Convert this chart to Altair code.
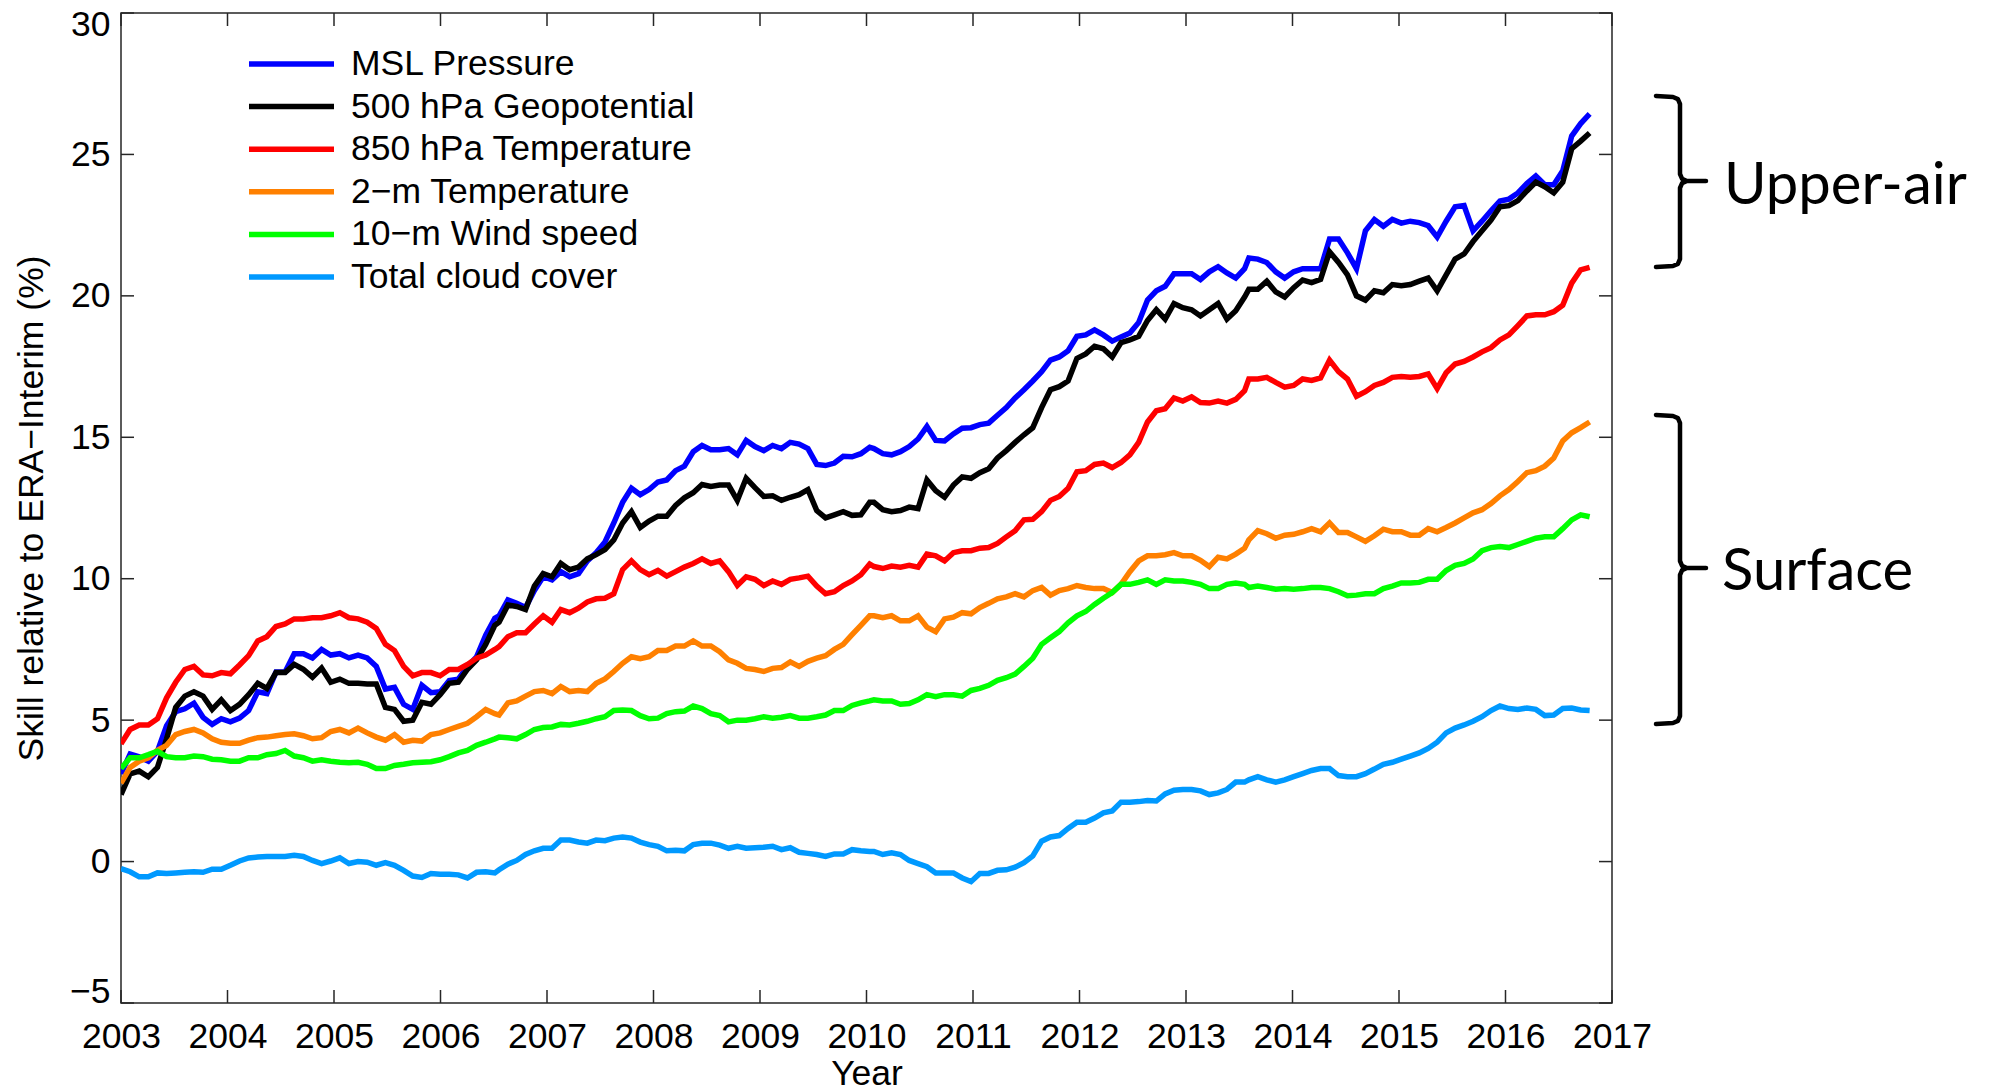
import altair as alt
import numpy as np
import pandas as pd

# ---------------- data ----------------
SERIES = ["MSL Pressure", "500 hPa Geopotential", "850 hPa Temperature",
          "2\u2212m Temperature", "10\u2212m Wind speed", "Total cloud cover"]
COLORS = ["#0000ff", "#000000", "#ff0000", "#ff8000", "#00ff00", "#0099ff"]

# sample times: four consecutive runs of (roughly monthly) samples
SEGMENTS = [(2003.0, 2006.51, 42), (2006.55, 2010.03, 43),
            (2010.07, 2013.55, 43), (2013.59, 2016.79, 39)]

msl = [3.1, 3.8, 3.7, 3.55, 3.9, 4.8, 5.3, 5.4, 5.6, 5.1, 4.85, 5.05, 4.94, 5.07, 5.34, 6.0, 5.94, 6.7, 6.7, 7.35, 7.35,
       7.2, 7.5, 7.3, 7.35, 7.2, 7.3, 7.2, 6.9, 6.1, 6.16, 5.56, 5.38, 6.23, 5.97, 6.0, 6.4, 6.45, 6.9, 7.24, 8.0, 8.6,
       8.69, 9.25, 9.13, 8.98, 9.58, 10.07, 9.96, 10.25, 10.07, 10.18, 10.63, 10.92, 11.3, 11.97, 12.7, 13.2, 12.97,
       13.15, 13.42, 13.49, 13.82, 13.98, 14.49, 14.71, 14.56, 14.56, 14.6, 14.38, 14.89, 14.67, 14.53, 14.71, 14.6,
       14.82, 14.76, 14.6, 14.04, 14.0, 14.09, 14.33, 14.31, 14.42, 14.65,
       14.6, 14.42, 14.38, 14.49, 14.67, 14.94, 15.38, 14.89, 14.87, 15.12, 15.32, 15.34, 15.45, 15.5, 15.78, 16.05,
       16.39, 16.68, 16.99, 17.32, 17.73, 17.84, 18.06, 18.57, 18.62, 18.8, 18.62, 18.4, 18.55, 18.69, 19.06, 19.85,
       20.18, 20.34, 20.78, 20.78, 20.78, 20.58, 20.85, 21.03, 20.81, 20.63, 20.96,
       21.34, 21.3, 21.18, 20.85, 20.63, 20.85, 20.96, 20.96, 20.96, 22.01, 22.01, 21.52, 20.96, 22.3, 22.7, 22.46,
       22.7, 22.57, 22.64, 22.59, 22.48, 22.08, 22.64, 23.15, 23.19, 22.3, 22.64, 23.01, 23.35, 23.42, 23.64, 23.97,
       24.24, 23.93, 23.93, 24.42, 25.65, 26.09, 26.43]

z500 = [2.37, 3.1, 3.2, 3.0, 3.33, 4.34, 5.45, 5.85, 6.0, 5.85, 5.38, 5.72, 5.34, 5.56, 5.9, 6.3, 6.12, 6.68, 6.68,
        6.97, 6.8, 6.52, 6.84, 6.34, 6.45, 6.3, 6.3, 6.28, 6.28, 5.45, 5.38, 4.96, 5.0, 5.63, 5.56, 5.9, 6.3, 6.34,
        6.8, 7.13, 7.68, 8.35,
        8.46, 9.07, 9.02, 8.91, 9.74, 10.18, 10.07, 10.54, 10.32, 10.41, 10.7, 10.85, 11.03, 11.37, 11.97, 12.37,
        11.81, 12.04, 12.21, 12.21, 12.59, 12.86, 13.04, 13.33, 13.26, 13.31, 13.31, 12.77, 13.55, 13.22, 12.91,
        12.93, 12.77, 12.88, 12.97, 13.15, 12.41, 12.15, 12.26, 12.37, 12.24, 12.26, 12.7,
        12.7, 12.44, 12.37, 12.41, 12.53, 12.48, 13.49, 13.11, 12.88, 13.31, 13.6, 13.55, 13.75, 13.89, 14.27, 14.53,
        14.82, 15.09, 15.34, 16.05, 16.68, 16.79, 16.99, 17.79, 17.95, 18.22, 18.13, 17.84, 18.35, 18.44, 18.57,
        19.13, 19.51, 19.18, 19.73, 19.58, 19.51, 19.29, 19.51, 19.73, 19.18, 19.47, 19.96,
        20.23, 20.23, 20.52, 20.14, 19.96, 20.29, 20.56, 20.47, 20.58, 21.56, 21.18, 20.74, 20.0, 19.85, 20.18,
        20.11, 20.4, 20.36, 20.4, 20.52, 20.63, 20.18, 20.74, 21.3, 21.48, 21.92, 22.3, 22.68, 23.15, 23.19, 23.37,
        23.71, 24.02, 23.86, 23.64, 24.02, 25.2, 25.47, 25.76]

t850 = [4.16, 4.67, 4.83, 4.83, 5.05, 5.79, 6.34, 6.79, 6.9, 6.6, 6.57, 6.68, 6.64, 6.95, 7.28, 7.8, 7.95, 8.31, 8.4,
        8.58, 8.58, 8.62, 8.62, 8.69, 8.8, 8.62, 8.58, 8.46, 8.24, 7.68, 7.46, 6.9, 6.57, 6.68, 6.68, 6.57, 6.79,
        6.79, 6.97, 7.19, 7.3, 7.5,
        7.6, 7.95, 8.09, 8.09, 8.4, 8.69, 8.46, 8.91, 8.8, 8.96, 9.18, 9.29, 9.31, 9.47, 10.32, 10.63, 10.32, 10.14,
        10.29, 10.09, 10.25, 10.41, 10.54, 10.7, 10.54, 10.63, 10.25, 9.76, 10.07, 9.98, 9.76, 9.92, 9.8, 9.98,
        10.03, 10.09, 9.74, 9.47, 9.54, 9.76, 9.92, 10.14, 10.52,
        10.43, 10.36, 10.45, 10.41, 10.47, 10.41, 10.87, 10.81, 10.63, 10.92, 10.99, 10.99, 11.08, 11.1, 11.25,
        11.48, 11.7, 12.08, 12.1, 12.37, 12.77, 12.91, 13.2, 13.78, 13.82, 14.04, 14.09, 13.93, 14.11, 14.38, 14.82,
        15.54, 15.94, 16.01, 16.39, 16.28, 16.43, 16.23, 16.21, 16.28, 16.21, 16.34, 16.65,
        17.06, 17.06, 17.12, 16.94, 16.77, 16.83, 17.06, 17.01, 17.1, 17.73, 17.32, 17.06, 16.45, 16.61, 16.83,
        16.94, 17.12, 17.15, 17.12, 17.15, 17.24, 16.72, 17.28, 17.59, 17.68, 17.84, 18.02, 18.17, 18.44, 18.62,
        18.95, 19.29, 19.33, 19.33, 19.44, 19.67, 20.45, 20.92, 21.01]

t2m = [2.77, 3.33, 3.55, 3.67, 3.93, 4.11, 4.49, 4.6, 4.67, 4.55, 4.34, 4.22, 4.18, 4.18, 4.29, 4.38, 4.4, 4.45, 4.49,
       4.52, 4.45, 4.34, 4.38, 4.6, 4.67, 4.55, 4.72, 4.55, 4.4, 4.29, 4.49, 4.22, 4.29, 4.26, 4.49, 4.55, 4.67,
       4.78, 4.89, 5.12, 5.38, 5.23,
       5.18, 5.61, 5.68, 5.85, 6.01, 6.05, 5.94, 6.19, 6.01, 6.05, 6.01, 6.3, 6.46, 6.72, 7.01, 7.24, 7.17, 7.24,
       7.46, 7.46, 7.62, 7.62, 7.8, 7.62, 7.62, 7.42, 7.13, 7.01, 6.83, 6.79, 6.72, 6.83, 6.86, 7.06, 6.9, 7.08,
       7.19, 7.28, 7.5, 7.68, 8.02, 8.35, 8.69,
       8.69, 8.62, 8.69, 8.51, 8.51, 8.69, 8.29, 8.13, 8.58, 8.64, 8.8, 8.76, 8.98, 9.13, 9.29, 9.36, 9.47, 9.36,
       9.58, 9.69, 9.42, 9.58, 9.65, 9.76, 9.69, 9.65, 9.65, 9.51, 9.8, 10.25, 10.63, 10.81, 10.81, 10.85, 10.92,
       10.81, 10.81, 10.65, 10.43, 10.76, 10.7, 10.87, 11.08,
       11.37, 11.7, 11.59, 11.43, 11.54, 11.57, 11.66, 11.77, 11.66, 11.97, 11.63, 11.63, 11.48, 11.32, 11.52,
       11.75, 11.66, 11.66, 11.54, 11.54, 11.77, 11.66, 11.81, 11.97, 12.15, 12.33, 12.44, 12.66, 12.93, 13.15,
       13.44, 13.75, 13.82, 13.98, 14.27, 14.87, 15.16, 15.34, 15.54]

ws10 = [3.29, 3.67, 3.67, 3.78, 3.9, 3.71, 3.67, 3.67, 3.73, 3.71, 3.62, 3.6, 3.55, 3.55, 3.67, 3.67, 3.78, 3.82,
        3.93, 3.73, 3.67, 3.55, 3.6, 3.55, 3.51, 3.49, 3.51, 3.44, 3.29, 3.29, 3.4, 3.44, 3.49, 3.51, 3.53, 3.6,
        3.71, 3.84, 3.93, 4.11, 4.22, 4.34,
        4.4, 4.38, 4.34, 4.49, 4.67, 4.74, 4.76, 4.85, 4.83, 4.89, 4.96, 5.05, 5.12, 5.34, 5.36, 5.34, 5.16, 5.05,
        5.07, 5.23, 5.3, 5.32, 5.5, 5.41, 5.23, 5.16, 4.94, 5.0, 5.0, 5.05, 5.12, 5.07, 5.1, 5.16, 5.07, 5.07, 5.12,
        5.18, 5.34, 5.34, 5.52, 5.61, 5.68,
        5.72, 5.68, 5.68, 5.56, 5.59, 5.72, 5.9, 5.83, 5.9, 5.9, 5.85, 6.05, 6.12, 6.23, 6.41, 6.5, 6.63, 6.9, 7.19,
        7.68, 7.91, 8.13, 8.44, 8.69, 8.84, 9.09, 9.31, 9.51, 9.8, 9.8, 9.87, 9.96, 9.8, 9.96, 9.92, 9.92, 9.87, 9.8,
        9.65, 9.65, 9.8, 9.85, 9.8,
        9.69, 9.74, 9.69, 9.63, 9.65, 9.63, 9.65, 9.69, 9.69, 9.65, 9.54, 9.4, 9.42, 9.47, 9.47, 9.65, 9.74, 9.85,
        9.85, 9.87, 9.98, 9.98, 10.29, 10.47, 10.54, 10.7, 10.99, 11.1, 11.14, 11.1, 11.21, 11.32, 11.43, 11.48,
        11.48, 11.77, 12.08, 12.26, 12.19]

tcc = [-0.25, -0.36, -0.54, -0.54, -0.4, -0.42, -0.4, -0.38, -0.36, -0.38, -0.27, -0.27, -0.13, 0.02, 0.13, 0.16,
       0.18, 0.18, 0.18, 0.22, 0.18, 0.04, -0.07, 0.02, 0.13, -0.07, 0.0, -0.02, -0.13, -0.04, -0.13, -0.31, -0.51,
       -0.56, -0.42, -0.45, -0.45, -0.47, -0.58, -0.38, -0.36, -0.4,
       -0.29, -0.09, 0.04, 0.25, 0.38, 0.47, 0.47, 0.76, 0.76, 0.69, 0.65, 0.76, 0.74, 0.83, 0.87, 0.83, 0.69, 0.6,
       0.54, 0.38, 0.4, 0.38, 0.6, 0.65, 0.65, 0.58, 0.47, 0.54, 0.47, 0.49, 0.51, 0.54, 0.42, 0.49, 0.33, 0.29,
       0.25, 0.18, 0.27, 0.27, 0.42, 0.38, 0.36,
       0.36, 0.25, 0.31, 0.25, 0.04, -0.07, -0.18, -0.4, -0.4, -0.4, -0.58, -0.71, -0.42, -0.42, -0.31, -0.29,
       -0.2, -0.04, 0.2, 0.72, 0.87, 0.92, 1.17, 1.39, 1.39, 1.54, 1.72, 1.79, 2.1, 2.1, 2.12, 2.16, 2.14, 2.39,
       2.52, 2.55, 2.55, 2.5, 2.37, 2.43, 2.55, 2.81, 2.81,
       2.89, 3.0, 2.89, 2.81, 2.89, 3.0, 3.11, 3.22, 3.29, 3.29, 3.04, 3.0, 3.0, 3.11, 3.27, 3.44, 3.51, 3.62,
       3.73, 3.84, 4.0, 4.22, 4.55, 4.72, 4.83, 4.96, 5.12, 5.34, 5.5, 5.41, 5.38, 5.43, 5.38, 5.16, 5.18, 5.41,
       5.43, 5.36, 5.34]

X_TICKS = list(range(2003, 2018))
Y_TICKS = [-5, 0, 5, 10, 15, 20, 25, 30]
GROUPS = ["Upper-air", "Surface"]

# ---------------- build tables ----------------
years = np.concatenate([np.linspace(a, b, n) for a, b, n in SEGMENTS])
values = [msl, z500, t850, t2m, ws10, tcc]
frames = []
for name, vals in zip(SERIES, values):
    assert len(vals) == len(years), (name, len(vals))
    frames.append(pd.DataFrame({"year": years, "value": vals, "series": name}))
df = pd.concat(frames, ignore_index=True)

# ---------------- styling / layout ----------------
W, H = 1491, 990
TL = 13
FONT = "Liberation Sans"
FS = 35.5
AX = "#262626"

xs = alt.Scale(domain=[2003, 2017], nice=False, zero=False)
ys = alt.Scale(domain=[-5, 30], nice=False, zero=False)
cs = alt.Scale(domain=SERIES, range=COLORS)

lines = alt.Chart(df).mark_line(strokeWidth=5.5, clip=True).encode(
    x=alt.X("year:Q", scale=xs, axis=alt.Axis(
        values=X_TICKS, format="d", title="Year", ticks=False, domain=False, grid=False,
        labelFlush=False, labelPadding=16, labelFont=FONT, labelFontSize=FS, labelColor="#000",
        titleFont=FONT, titleFontSize=FS, titleFontWeight="normal", titleColor="#000",
        titleBaseline="alphabetic", titleY=81)),
    y=alt.Y("value:Q", scale=ys, axis=alt.Axis(
        values=Y_TICKS, title="Skill relative to ERA\u2212Interim (%)", ticks=False, domain=False,
        grid=False, labelFlush=True, labelFlushOffset=6, labelPadding=11, labelFont=FONT,
        labelFontSize=FS, labelColor="#000", titleFont=FONT, titleFontSize=FS,
        titleFontWeight="normal", titleColor="#000", titleAngle=270, titleAlign="center",
        titleBaseline="alphabetic", titleX=-79, titleY=H / 2)),
    color=alt.Color("series:N", scale=cs, legend=None),
    order=alt.Order("year:Q"),
)

xt = pd.DataFrame({"year": X_TICKS})
yt = pd.DataFrame({"value": Y_TICKS})
tick_mark = dict(color=AX, strokeWidth=1.5)
xenc = alt.X("year:Q", scale=xs, axis=None)
yenc = alt.Y("value:Q", scale=ys, axis=None)
ticks = [
    alt.Chart(xt).mark_rule(**tick_mark).encode(x=xenc, y=alt.value(H), y2=alt.value(H - TL)),
    alt.Chart(xt).mark_rule(**tick_mark).encode(x=xenc, y=alt.value(0), y2=alt.value(TL)),
    alt.Chart(yt).mark_rule(**tick_mark).encode(y=yenc, x=alt.value(0), x2=alt.value(TL)),
    alt.Chart(yt).mark_rule(**tick_mark).encode(y=yenc, x=alt.value(W), x2=alt.value(W - TL)),
]

# manual legend (top-left, inside the plot)
leg = pd.DataFrame({"series": SERIES})
leg_y = alt.Y("series:N", axis=None,
              scale=alt.Scale(type="point", domain=SERIES, range=[51, 264], padding=0))
legend_lines = alt.Chart(leg).mark_rule(strokeWidth=5.5).encode(
    y=leg_y, x=alt.value(128), x2=alt.value(213),
    color=alt.Color("series:N", scale=cs, legend=None))
legend_text = alt.Chart(leg).mark_text(
    align="left", baseline="middle", font=FONT, fontSize=FS, color="#000").encode(
    y=leg_y, x=alt.value(230), text="series:N")

# braces + group labels on the right
def brace(top, tip, bottom, xa=1535, xb=1559, xt_=1585, r=7):
    pts = [(xa, top), (xb - r, top + 1), (xb - 0.3 * r, top + 0.3 * r + 1), (xb, top + r + 1),
           (xb, tip - r), (xb + 0.3 * r, tip - 0.3 * r), (xb + r, tip), (xt_, tip),
           (xb + r, tip), (xb + 0.3 * r, tip + 0.3 * r), (xb, tip + r),
           (xb, bottom - r - 1), (xb - 0.3 * r, bottom - 0.3 * r - 1), (xb - r, bottom - 1), (xa, bottom)]
    return pts

brace_rows = []
for gi, (top, tip, bot) in enumerate([(83, 168, 254), (402, 555, 711)]):
    for k, (bx, by) in enumerate(brace(top, tip, bot)):
        brace_rows.append({"brace": GROUPS[gi], "k": k, "bx": bx, "by": by})
braces = alt.Chart(pd.DataFrame(brace_rows)).mark_line(
    color="#000", strokeWidth=4.5, strokeJoin="round", strokeCap="round", clip=False).encode(
    x=alt.X("bx:Q", scale=None, axis=None), y=alt.Y("by:Q", scale=None, axis=None),
    detail="brace:N", order="k:Q")

ann_font = dict(font="Lato", fontSize=58, color="#000", align="left", baseline="alphabetic")
ann_upper = alt.Chart(pd.DataFrame({"t": [GROUPS[0]]})).mark_text(**ann_font).encode(
    text="t:N", x=alt.value(1603), y=alt.value(191))
ann_surface = alt.Chart(pd.DataFrame({"t": [GROUPS[1]]})).mark_text(**ann_font).encode(
    text="t:N", x=alt.value(1601), y=alt.value(577))

chart = alt.layer(lines, *ticks, legend_lines, legend_text, braces, ann_upper, ann_surface).resolve_scale(
    x="independent", y="independent"
).properties(
    width=W, height=H,
    padding={"left": 113, "top": 5, "right": 365, "bottom": 84},
    autosize=alt.AutoSizeParams(type="none"),
    background="white",
).configure_view(stroke=AX, strokeWidth=1.5)

chart.save("out.html", embed_options={"renderer": "svg", "actions": False})
